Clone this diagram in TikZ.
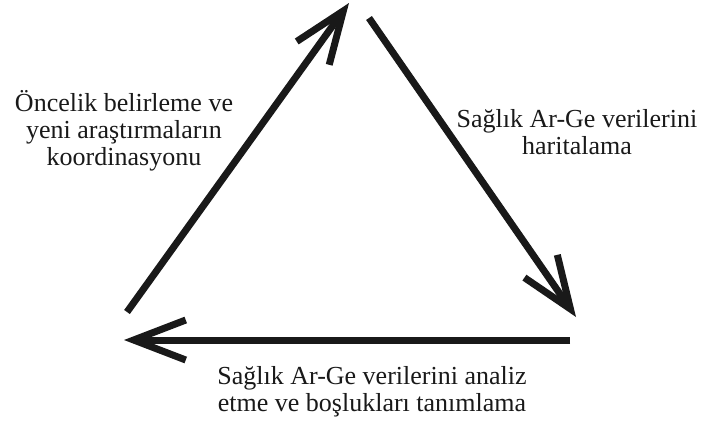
\documentclass[tikz,border=0pt]{standalone}
\usepackage{fontspec}
\setmainfont{Liberation Serif}
\usetikzlibrary{arrows.meta}
\begin{document}
\begin{tikzpicture}[x=1pt,y=-1pt,
  cyc/.style={line width=7pt, draw=black!90, -{Straight Barb[length=52pt,width=40pt]}},
  lbl/.style={align=center, inner sep=0pt, font=\fontsize{26}{27}\selectfont, text=black!90}]
\useasboundingbox (0,0) rectangle (703,421);
\coordinate (a1) at (127,312);
\coordinate (a2) at (349,3);
\coordinate (b1) at (369,18);
\coordinate (b2) at (576,317);
\coordinate (c1) at (570,340);
\coordinate (c2) at (124,340);
\draw[cyc] (a1) -- (a2);
\draw[cyc] (b1) -- (b2);
\draw[cyc] (c1) -- (c2);
\node[lbl] (tl) at (124,131) {Öncelik belirleme ve\\yeni araştırmaların\\koordinasyonu};
\node[lbl] (tr) at (577,132) {Sağlık Ar-Ge verilerini\\haritalama};
\node[lbl] (tb) at (372,392) {Sağlık Ar-Ge verilerini analiz\\etme ve boşlukları tanımlama};
\end{tikzpicture}
\end{document}
